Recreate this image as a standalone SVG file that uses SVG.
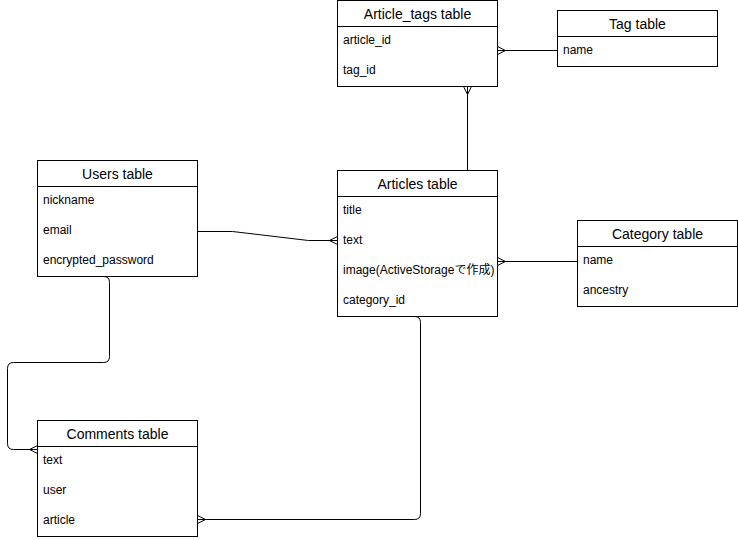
<svg xmlns="http://www.w3.org/2000/svg" width="738" height="540" viewBox="0 0 738 540">
<style>
.box{fill:#fff;stroke:#000;stroke-width:1}
.sep{stroke:#000;stroke-width:1}
.ttl{font-family:"Liberation Sans",Arial,"Noto Sans CJK JP",sans-serif;font-size:14px;text-anchor:middle;fill:#000}
.row{font-family:"Liberation Sans",Arial,"Noto Sans CJK JP",sans-serif;font-size:12px;fill:#000}
.ln{fill:none;stroke:#000;stroke-width:1}
</style>
<rect width="738" height="540" fill="#fff"/>
<g id="connectors">
  <!-- Tag -> Article_tags -->
  <path class="ln" d="M497.5,50.5 L557.5,50.5"/>
  <path class="ln" d="M497.5,46.5 L505.5,50.5 L497.5,54.5"/>
  <!-- Article_tags -> Articles -->
  <path class="ln" d="M467.5,86.5 L467.5,170.5"/>
  <path class="ln" d="M463.5,86.5 L467.5,94.5 L471.5,86.5"/>
  <!-- Users -> Articles -->
  <path class="ln" d="M197.5,231.5 L232.5,231.5 L308.5,240.5 L337.5,240.5"/>
  <path class="ln" d="M337.5,236.5 L329.5,240.5 L337.5,244.5"/>
  <!-- Category -> Articles -->
  <path class="ln" d="M497.5,261.5 L577.5,261.5"/>
  <path class="ln" d="M497.5,257.5 L505.5,261.5 L497.5,265.5"/>
  <!-- Users -> Comments -->
  <path class="ln" d="M103.5,276.5 Q109.5,276.5 109.5,282.5 L109.5,356.5 Q109.5,362.5 103.5,362.5 L13.5,362.5 Q7.5,362.5 7.5,368.5 L7.5,443.5 Q7.5,449.5 13.5,449.5 L37.5,449.5"/>
  <path class="ln" d="M37.5,445.5 L29.5,449.5 L37.5,453.5"/>
  <!-- Articles -> Comments -->
  <path class="ln" d="M414.5,316.5 Q420.5,316.5 420.5,322.5 L420.5,513.5 Q420.5,519.5 414.5,519.5 L197.5,519.5"/>
  <path class="ln" d="M197.5,515.5 L205.5,519.5 L197.5,523.5"/>
</g>
<g id="article_tags">
  <rect class="box" x="337.5" y="0.5" width="160" height="86"/>
  <line class="sep" x1="337.5" y1="26.5" x2="497.5" y2="26.5"/>
  <text class="ttl" x="417.5" y="19">Article_tags table</text>
  <text class="row" x="343" y="44">article_id</text>
  <text class="row" x="343" y="74">tag_id</text>
</g>
<g id="tag">
  <rect class="box" x="557.5" y="10.5" width="160" height="56"/>
  <line class="sep" x1="557.5" y1="36.5" x2="717.5" y2="36.5"/>
  <text class="ttl" x="637.5" y="29">Tag table</text>
  <text class="row" x="563" y="54">name</text>
</g>
<g id="users">
  <rect class="box" x="37.5" y="160.5" width="160" height="116"/>
  <line class="sep" x1="37.5" y1="186.5" x2="197.5" y2="186.5"/>
  <text class="ttl" x="117.5" y="179">Users table</text>
  <text class="row" x="43" y="204">nickname</text>
  <text class="row" x="43" y="234">email</text>
  <text class="row" x="43" y="264">encrypted_password</text>
</g>
<g id="articles">
  <rect class="box" x="337.5" y="170.5" width="160" height="146"/>
  <line class="sep" x1="337.5" y1="196.5" x2="497.5" y2="196.5"/>
  <text class="ttl" x="417.5" y="189">Articles table</text>
  <text class="row" x="343" y="214">title</text>
  <text class="row" x="343" y="244">text</text>
  <text class="row" x="343" y="274">image(ActiveStorageで作成)</text>
  <text class="row" x="343" y="304">category_id</text>
</g>
<g id="category">
  <rect class="box" x="577.5" y="220.5" width="160" height="86"/>
  <line class="sep" x1="577.5" y1="246.5" x2="737.5" y2="246.5"/>
  <text class="ttl" x="657.5" y="239">Category table</text>
  <text class="row" x="583" y="264">name</text>
  <text class="row" x="583" y="294">ancestry</text>
</g>
<g id="comments">
  <rect class="box" x="37.5" y="420.5" width="160" height="116"/>
  <line class="sep" x1="37.5" y1="446.5" x2="197.5" y2="446.5"/>
  <text class="ttl" x="117.5" y="439">Comments table</text>
  <text class="row" x="43" y="464">text</text>
  <text class="row" x="43" y="494">user</text>
  <text class="row" x="43" y="524">article</text>
</g>
</svg>
